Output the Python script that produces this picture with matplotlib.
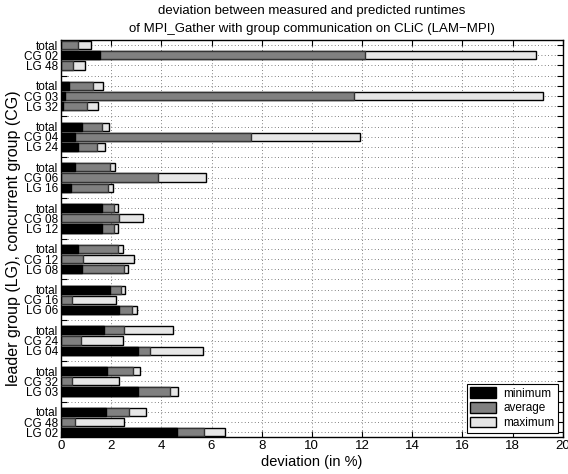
import matplotlib
matplotlib.use('Agg')
import matplotlib.pyplot as plt
from matplotlib.patches import Patch

plt.rcParams['font.family'] = ['Liberation Sans', 'DejaVu Sans']

# groups from top to bottom: concurrent group / leader group
cg_names = ['02', '03', '04', '06', '08', '12', '16', '24', '32', '48']
lg_names = ['48', '32', '24', '16', '12', '08', '06', '04', '03', '02']

# deviation in %, per group: [total, CG, LG]
dev_min = [
    [0.00, 1.56, 0.00],
    [0.33, 0.16, 0.09],
    [0.83, 0.56, 0.69],
    [0.56, 0.00, 0.39],
    [1.63, 0.00, 1.65],
    [0.69, 0.00, 0.83],
    [1.96, 0.00, 2.32],
    [1.73, 0.00, 3.07],
    [1.85, 0.00, 3.05],
    [1.79, 0.00, 4.63],
]
dev_avg = [
    [0.69, 12.12, 0.47],
    [1.27, 11.67, 1.03],
    [1.63, 7.59, 1.43],
    [1.96, 3.87, 1.87],
    [2.13, 2.31, 2.12],
    [2.29, 0.87, 2.52],
    [2.40, 0.45, 2.85],
    [2.51, 0.79, 3.53],
    [2.87, 0.45, 4.36],
    [2.71, 0.56, 5.69],
]
dev_max = [
    [1.20, 18.93, 0.96],
    [1.69, 19.21, 1.49],
    [1.92, 11.92, 1.76],
    [2.16, 5.79, 2.07],
    [2.29, 3.27, 2.28],
    [2.49, 2.89, 2.69],
    [2.57, 2.21, 3.03],
    [4.45, 2.49, 5.65],
    [3.13, 2.33, 4.65],
    [3.39, 2.52, 6.52],
]

n_slots = 4 * len(cg_names) - 1

# build rows (one empty slot between groups)
pos, labels, vmin, vavg, vmax = [], [], [], [], []
for g in range(len(cg_names)):
    names = ['total', 'CG ' + cg_names[g], 'LG ' + lg_names[g]]
    for i in range(3):
        pos.append(n_slots - (4 * g + i))
        labels.append(names[i])
        vmin.append(dev_min[g][i])
        vavg.append(dev_avg[g][i])
        vmax.append(dev_max[g][i])

fig = plt.figure(figsize=(5.68, 4.74), dpi=100)
ax = fig.add_axes([0.1074, 0.0774, 0.8833, 0.8382])

h = 0.8
ax.barh(pos, vmax, height=h, color='#e6e6e6', edgecolor='black', linewidth=1.0, zorder=3)
ax.barh(pos, vavg, height=h, color='#808080', edgecolor='#333333', linewidth=1.0, zorder=4)
ax.barh(pos, vmin, height=h, color='black', edgecolor='black', linewidth=1.0, zorder=5)

ax.set_xlim(0, 20)
ax.set_ylim(0.5, n_slots + 0.5)
ax.set_xticks(range(0, 21, 2))
# every slot gets a tick (and grid line), only bar rows get a label
ax.set_yticks(range(1, n_slots + 1), minor=True)
ax.set_yticks(pos)
ax.set_yticklabels(labels, fontsize=8.5)
ax.tick_params(axis='x', labelsize=9.5)
ax.tick_params(which='both', direction='in', length=4, width=0.8, top=True, right=True, pad=2)
ax.grid(True, which='both', linestyle=(0, (1, 3)), color='0.35', linewidth=0.6, zorder=0)
ax.set_axisbelow(True)
for s in ax.spines.values():
    s.set_linewidth(1.0)

ax.set_xlabel('deviation (in %)', fontsize=10.5, labelpad=2)
ax.set_ylabel('leader group (LG), concurrent group (CG)', fontsize=11.5, labelpad=2)
ax.set_title('deviation between measured and predicted runtimes\n'
             'of MPI_Gather with group communication on CLiC (LAM\u2212MPI)',
             fontsize=9.5, linespacing=1.6, pad=6)

handles = [Patch(facecolor='black', edgecolor='black', label='minimum'),
           Patch(facecolor='#808080', edgecolor='black', label='average'),
           Patch(facecolor='#e6e6e6', edgecolor='black', label='maximum')]
leg = ax.legend(handles=handles, loc='lower right', fontsize=8.5, fancybox=False,
                framealpha=1, edgecolor='black', borderaxespad=0.4,
                handlelength=2.2, handleheight=1.0, labelspacing=0.2,
                borderpad=0.3, handletextpad=0.6)
leg.get_frame().set_linewidth(0.8)
leg.set_zorder(10)

fig.savefig('out.png', dpi=100)
